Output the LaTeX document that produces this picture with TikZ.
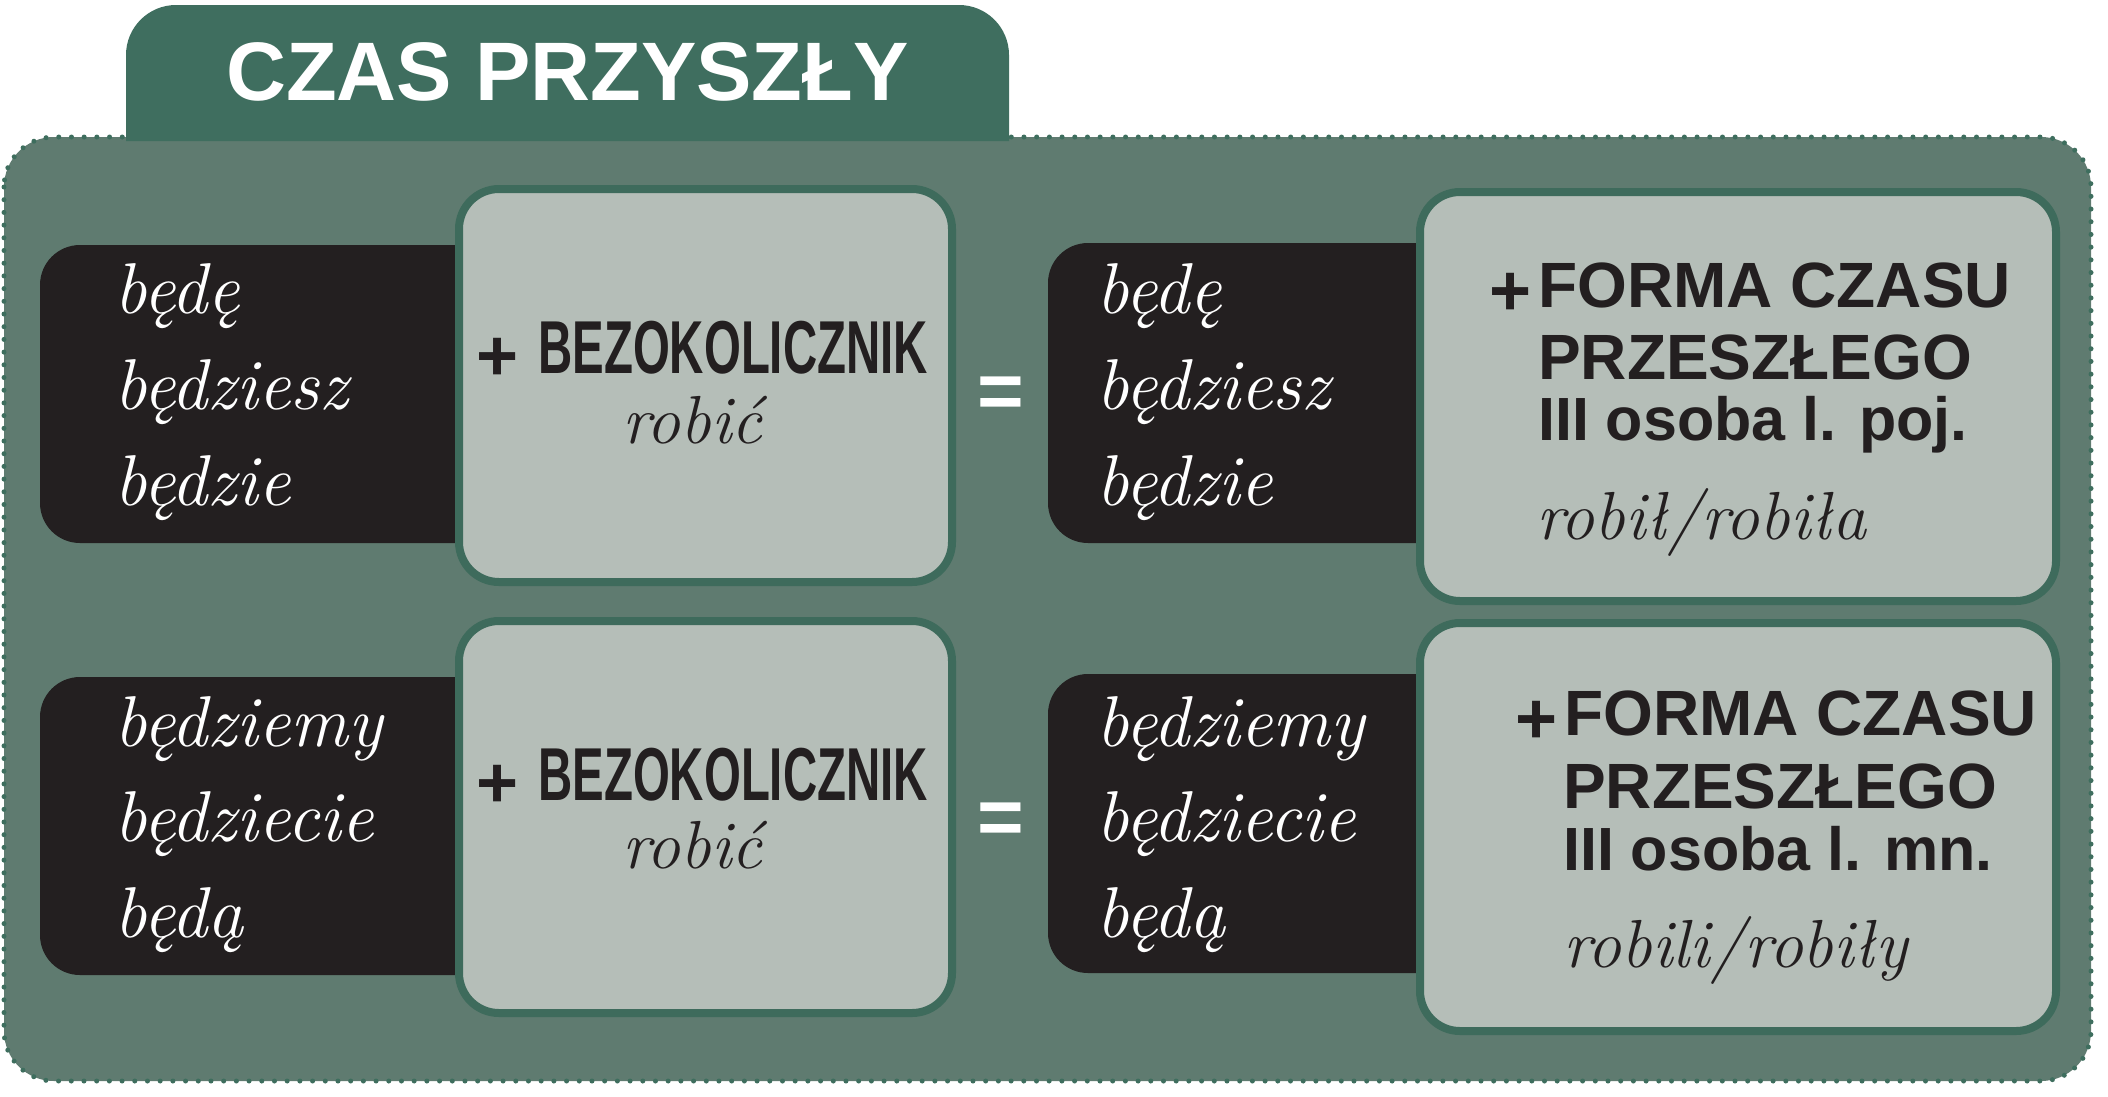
\documentclass[tikz,border=0pt]{standalone}
\usepackage{graphicx}
\usepackage{fontspec}
\setmainfont{Latin Modern Roman}
\newfontfamily\arialfont{Liberation Sans}
\definecolor{mainfill}{HTML}{5F7B70}
\definecolor{tabfill}{HTML}{3F6E5F}
\definecolor{lightfill}{HTML}{B5BEB8}
\definecolor{lightborder}{HTML}{3E6B5C}
\definecolor{blackfill}{HTML}{231F20}
\definecolor{dotcol}{HTML}{3E6E5E}
\begin{document}
\begin{tikzpicture}[x=1pt,y=-1pt,
  conj/.style={anchor=base west, inner sep=0pt, text=white, font=\itshape\fontsize{72}{84}\selectfont},
  example/.style={anchor=base west, inner sep=0pt, text=blackfill, font=\itshape\fontsize{68}{80}\selectfont},
  headline/.style={anchor=base west, inner sep=0pt, text=blackfill, font=\arialfont\bfseries\fontsize{64}{75}\selectfont},
  subline/.style={anchor=base west, inner sep=0pt, text=blackfill, font=\arialfont\bfseries\fontsize{61}{73}\selectfont},
  infin/.style={anchor=base west, inner sep=0pt, text=blackfill, font=\arialfont\bfseries\fontsize{75}{85}\selectfont},
  eqsign/.style={anchor=base west, inner sep=0pt, text=white, font=\arialfont\bfseries\fontsize{80}{90}\selectfont},
  titletext/.style={anchor=base west, inner sep=0pt, text=white, font=\arialfont\bfseries\fontsize{83}{92}\selectfont},
  blackbox/.style={fill=blackfill, rounded corners=40pt},
  lightbox/.style={fill=lightfill, draw=lightborder, line width=8pt, rounded corners=40pt},
]
\useasboundingbox (0,0) rectangle (2108,1096);
% main panel
\fill[mainfill, rounded corners=50pt] (4,137) rectangle (2091,1081);
\draw[dotcol, line width=5pt, dash pattern=on 0pt off 12.7pt, line cap=round, rounded corners=50pt] (4,137) rectangle (2091,1081);
% tab
\fill[tabfill] (126,141) [rounded corners=50pt] -- (126,5) -- (1009,5) [sharp corners] -- (1009,141) -- cycle;
\node[titletext] (title) at (226,100) {CZAS PRZYSZŁY};

% row 1
\fill[blackbox] (40,245) rectangle (520,543);
\fill[blackbox] (1048,243) rectangle (1460,543);
\draw[lightbox] (459,189) rectangle (952,582);
\draw[lightbox] (1420,192) rectangle (2056,601);

\node[conj] (r1a) at (114,313) {będę};
\node[conj] (r1b) at (114,409) {będziesz};
\node[conj] (r1c) at (114,505) {będzie};
\node[infin] (inf1) at (476,373) {\raisebox{-7pt}{\fontsize{72}{80}\selectfont +}\hspace{20pt}\scalebox{0.632}[1]{BEZOKOLICZNIK}};
\node[example] (ex1) at (622,443) {robić};
\node[eqsign] (eq1) at (977,418) {=};
\node[conj] (r1d) at (1096,313) {będę};
\node[conj] (r1e) at (1096,409) {będziesz};
\node[conj] (r1f) at (1096,505) {będzie};
\node[headline] (p1a) at (1489,307) {\raisebox{-8pt}{\fontsize{72}{80}\selectfont +}\hspace{7pt}FORMA CZASU};
\node[headline] (p1b) at (1538,379) {PRZESZŁEGO};
\node[subline] (p1c) at (1538,440) {III osoba l. poj.};
\node[example] (p1d) at (1536,539) {robił/robiła};

% row 2
\fill[blackbox] (40,677) rectangle (520,975);
\fill[blackbox] (1048,674) rectangle (1460,973);
\draw[lightbox] (459,621) rectangle (952,1013);
\draw[lightbox] (1420,623) rectangle (2056,1031);

\node[conj] (r2a) at (114,746) {będziemy};
\node[conj] (r2b) at (114,841) {będziecie};
\node[conj] (r2c) at (114,937) {będą};
\node[infin] (inf2) at (476,800) {\raisebox{-7pt}{\fontsize{72}{80}\selectfont +}\hspace{20pt}\scalebox{0.632}[1]{BEZOKOLICZNIK}};
\node[example] (ex2) at (622,868) {robić};
\node[eqsign] (eq2) at (977,844) {=};
\node[conj] (r2d) at (1096,746) {będziemy};
\node[conj] (r2e) at (1096,841) {będziecie};
\node[conj] (r2f) at (1096,937) {będą};
\node[headline] (p2a) at (1515,735) {\raisebox{-8pt}{\fontsize{72}{80}\selectfont +}\hspace{7pt}FORMA CZASU};
\node[headline] (p2b) at (1563,808) {PRZESZŁEGO};
\node[subline] (p2c) at (1563,870) {III osoba l. mn.};
\node[example] (p2d) at (1563,967) {robili/robiły};
\end{tikzpicture}
\end{document}
